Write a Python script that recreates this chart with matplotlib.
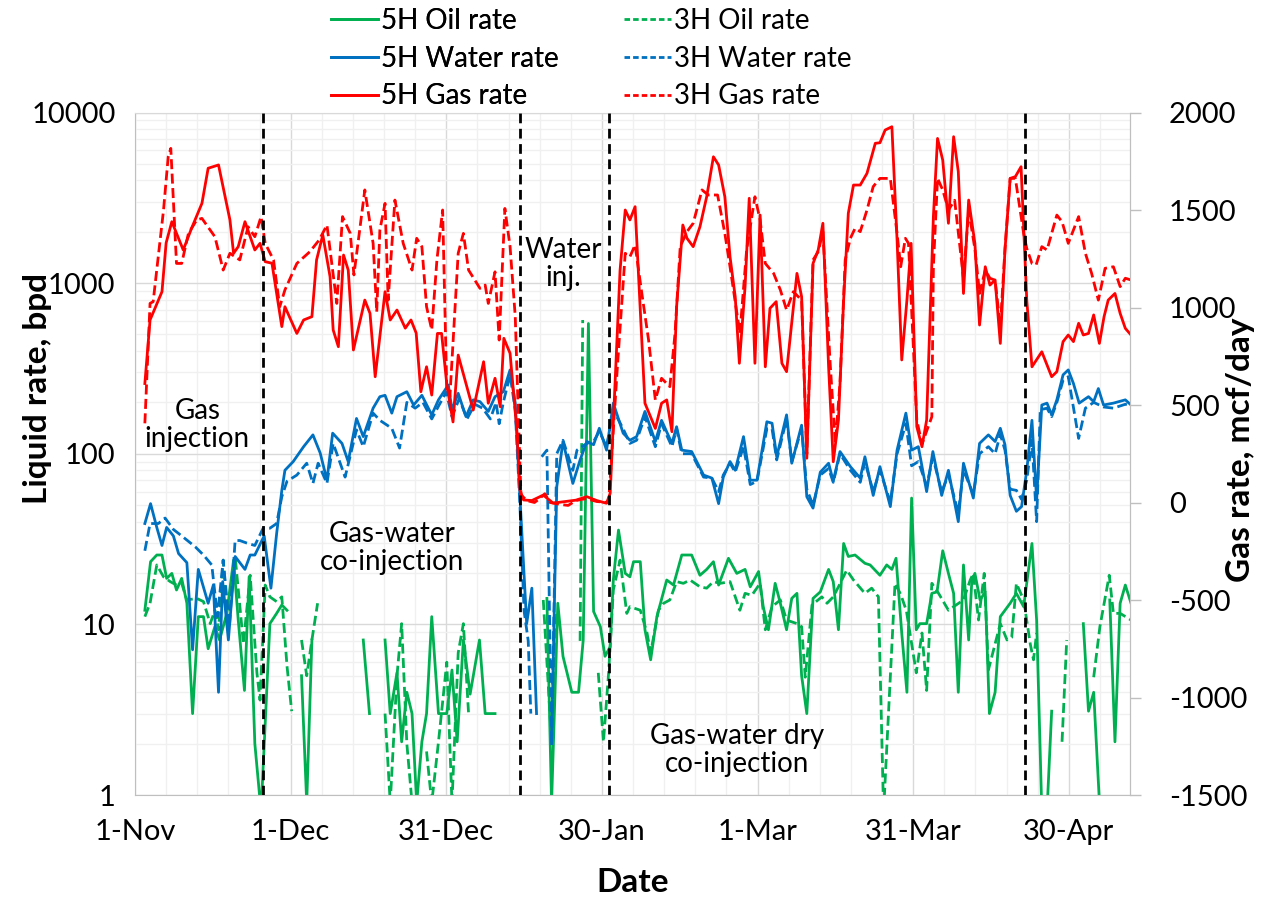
import numpy as np
import matplotlib
matplotlib.use("Agg")
import matplotlib.pyplot as plt
from matplotlib.lines import Line2D
from matplotlib.ticker import FixedLocator, LogLocator, MultipleLocator, NullFormatter

plt.rcParams["font.family"] = ["Lato", "DejaVu Sans"]
plt.rcParams["axes.unicode_minus"] = False

nan = np.nan

# x values are days counted from 1-Nov
TICK_DAYS = [0, 30, 60, 90, 120, 150, 180]
TICK_LABELS = ["1-Nov", "1-Dec", "31-Dec", "30-Jan", "1-Mar", "31-Mar", "30-Apr"]
PHASE_CHANGE_DAYS = [24.7, 74.2, 91.3, 171.5]

# 5H oil rate, bpd
oil_5h_day = [1.9, 3.0, 4.2, 5.2, 6.1, 7.1, 8.0, 9.0, 10.0, 11.1,
              12.2, 13.2, 14.1, 15.4, 16.3, 17.7, 19.0, 19.9, 21.1, 22.0,
              23.1, 24.3, 26.0, 27.3, 28.3, 29.3, 30.5, 32.1, 33.1, 34.1,
              35.0, 44.0, 45.2, 46.5, 48.2, 49.2, 50.5, 51.4, 52.4, 53.4,
              54.3, 55.3, 56.2, 57.2, 58.5, 60.1, 61.1, 62.1, 63.3, 64.6,
              66.4, 67.5, 69.4, 70.5, 79.4, 80.3, 81.5, 82.5, 84.2, 85.5,
              86.4, 87.4, 88.4, 89.7, 90.6, 91.6, 92.2, 93.2, 94.5, 95.4,
              96.1, 97.4, 98.3, 99.4, 100.6, 102.5, 103.8, 105.4, 107.3, 108.9,
              110.2, 111.5, 112.5, 114.4, 116.0, 117.6, 118.6, 120.2, 121.1, 122.1,
              123.4, 124.4, 125.6, 126.6, 127.6, 128.5, 129.5, 130.7, 132.1, 133.7,
              134.6, 135.6, 136.6, 137.5, 138.8, 140.7, 141.7, 143.6, 144.9, 145.9,
              146.7, 147.8, 148.8, 149.7, 150.6, 151.3, 152.6, 153.6, 154.6, 155.7,
              156.8, 157.8, 158.7, 159.7, 160.7, 161.3, 161.9, 162.9, 163.9, 164.7,
              165.8, 166.8, 167.7, 168.7, 169.9, 171.3, 172.9, 173.8, 174.8, 175.8,
              176.7, 178.0, 182.8, 183.8, 184.8, 186.0, 187.0, 187.9, 188.9, 189.9,
              190.9, 192.0]
oil_5h = [12.1, 23.3, 25.5, 25.5, 18.6, 19.9, 15.9, 18.6, 13.3, 3.0,
          11.1, 11.1, 7.2, 9.7, 8.1, 11.6, 23.8, 10.6, 4.1, 19,
          2.0, 0.8, 10.1, 11.6, 13, 12.1, nan, 5.0, 0.9, 8.1,
          nan, 8.1, 3.0, nan, 8.1, 3.0, 5.2, 2.05, 4.0, 3.0,
          0.9, 2.05, 3.0, 11.1, 3.0, 3.0, 5.4, 2.05, 8.1, 3.9,
          8.1, 3.0, 3.0, nan, 14.2, 0.9, 13.3, 6.5, 4.0, 4.0,
          8.1, 580, 11.9, 9.7, 6.5, 7.4, 18.2, 35.7, 19.9, 19.0,
          23.3, 23.3, 9.3, 6.2, 11.1, 18.2, 17, 25.5, 25.5, 19.4,
          21, 23.3, 17, 24.4, 19.9, 21, 16.6, 20.4, 12.7, 9.3,
          17.4, 13.3, 9.3, 14.2, 15.2, 5.0, 3.0, 14.2, 15.5, 21,
          17.8, 9.3, 29.8, 25, 25.5, 22.8, 22.3, 19.4, 22.3, 21,
          24.4, 8.9, 4.0, 55, 9.3, 10.1, 10.1, 15.2, 15.5, 27,
          19.9, 15.2, 4.0, 22.3, 8.1, 17.8, 19.9, 13.9, 15.5, 3.0,
          4.0, 11.1, 12.1, 13.3, 15.2, 12.7, 29.8, 10.6, 0.8, 0.8,
          3.1, nan, 10.1, 3.1, 4.0, 0.8, nan, 13.9, 2.05, 13.3,
          17, 13.3]

# 3H oil rate, bpd
oil_3h_day = [1.9, 2.9, 4.2, 5.5, 6.8, 8.0, 9.0, 10.0, 11.9, 13.2,
              14.5, 15.4, 16.1, 17.0, 18.0, 19.3, 20.9, 22.2, 23.5, 24.1,
              25.1, 26.0, 27.3, 28.3, 29.3, 30.2, 31.2, 32.1, 33.1, 34.1,
              35.2, 36.5, 48.2, 49.2, 50.5, 51.4, 52.4, 53.4, 54.8, 56.2,
              57.2, 58.5, 60.1, 61.1, 62.3, 63.3, 64.3, 65.5, 78.7, 80.3,
              81.3, 82.5, 85.8, 86.3, 86.9, 89.3, 90.3, 91.3, 92.2, 93.5,
              94.8, 95.4, 97.4, 98.7, 99.4, 100.9, 101.9, 103.1, 104.4, 105.7,
              107.0, 108.9, 110.2, 111.5, 112.8, 114.7, 116.6, 117.6, 118.9, 120.5,
              121.5, 122.8, 124.4, 125.6, 127.6, 128.5, 129.2, 130.5, 132.4, 133.4,
              134.6, 135.6, 137.2, 138.5, 140.7, 142.0, 143.3, 144.3, 146.5, 147.6,
              148.7, 150.6, 151.7, 152.6, 153.6, 154.9, 156.8, 159.7, 161.0, 161.6,
              162.6, 163.7, 164.5, 166.8, 168.1, 169.0, 169.9, 171.3, 172.6, 173.2,
              173.8, 175.0, 178.7, 179.6, 180.5, 184.8, 186.0, 187.8, 188.6, 189.9,
              192.0]
oil_3h = [11.1, 13.3, 22.3, 19, 17.8, 17, 17.4, 13.9, 14.2, 13.6,
          10.1, 12.1, 9.3, 23.8, 9.7, 25, 7.7, 19.4, 5.2, 3.6,
          17, 14.5, 13.6, 14.5, 5.7, 3.1, nan, 8.1, 5.0, 8.1,
          13.3, nan, 3.0, 0.9, 5.0, 10.1, 2.0, 0.9, nan, 1.8,
          0.9, 2.05, 6.0, 0.9, 6.8, 10.1, 3.0, nan, 13.9, 2.05,
          12, nan, 8, 608, nan, 5.2, 2.05, 5.2, 15.9, 23.8,
          11.6, 12.7, 12.1, 8.9, 6.8, 12.1, 13.3, 13.9, 17.8, 17.4,
          18.2, 16.6, 16.3, 17.8, 17.4, 17.8, 12.1, 15.2, 14.8, 17.4,
          9.3, 12.7, 13.9, 10.6, 10.1, 9.7, 4.9, 13, 14.5, 13.3,
          14.5, 16.6, 20.8, 18.2, 15.2, 16.3, 14.5, 0.8, 17.4, 15,
          12, 5.2, 8.9, 4.1, 17.4, 15.2, 12.1, 13.9, 18.2, 19.9,
          10.6, 19.9, 5.4, 10.1, 8.1, 8.4, 17.4, 13.9, 7.6, 6.2,
          8.9, nan, 2.05, 8.1, nan, 4.9, 9.7, 19.4, 11.6, 11.6,
          10.6]

# 5H water rate, bpd
water_5h_day = [1.9, 3.0, 4.2, 5.2, 6.1, 7.4, 8.4, 10.0, 11.1, 12.2,
                14.1, 15.1, 16.1, 16.9, 18.0, 19.3, 21.2, 22.2, 23.1, 24.9,
                26.2, 27.3, 28.3, 28.9, 30.5, 32.5, 34.3, 35.7, 37.0, 38.1,
                39.9, 41.1, 42.7, 44.0, 45.9, 47.2, 48.2, 49.5, 50.5, 52.4,
                53.7, 55.3, 57.2, 58.5, 60.4, 61.1, 62.3, 63.8, 65.2, 66.5,
                68.1, 69.4, 71.0, 72.3, 73.3, 74.2, 75.5, 76.5, 77.4, 78.5,
                80.3, 81.3, 82.5, 84.4, 85.8, 87.1, 88.4, 89.5, 90.9, 92.2,
                94.1, 95.4, 96.7, 98.3, 100.3, 101.5, 103.5, 104.4, 105.4, 107.3,
                109.6, 111.2, 112.5, 113.4, 114.7, 115.7, 117.3, 118.6, 119.9, 121.8,
                122.8, 123.7, 125.6, 126.6, 128.5, 129.5, 130.7, 132.1, 133.7, 134.6,
                135.9, 137.9, 139.8, 140.7, 142.3, 143.6, 145.6, 146.9, 148.6, 149.7,
                151.0, 152.6, 153.8, 155.5, 156.8, 158.7, 159.7, 161.6, 162.8, 164.5,
                165.8, 166.8, 167.7, 168.7, 169.9, 170.9, 171.9, 172.9, 173.8, 174.8,
                175.8, 176.7, 177.7, 178.9, 179.9, 180.9, 182.0, 183.8, 184.8, 185.7,
                186.7, 188.6, 190.9, 192.0]
water_5h = [39, 51, 37, 29, 37, 33, 26, 23, 7.1, 21,
            13.3, 17, 4.0, 17.8, 8.1, 25, 21, 25.5, 25.5, 33,
            16.3, 34, 61, 80, 90, 110, 129, 101, 70, 132,
            115, 90, 161, 126, 185, 216, 220, 173, 216, 231,
            193, 220, 169, 207, 253, 181, 226, 165, 207, 202,
            177, 216, 231, 310, 198, 56, 10.1, 16.3, 3.0, nan,
            2.0, 64, 118, 67, 92, 118, 113, 141, 105, 198,
            132, 120, 126, 177, 118, 157, 115, 144, 105, 103,
            75, 72, 51, 73, 90, 80, 126, 70, 70, 154,
            151, 96, 169, 88, 147, 56, 48, 78, 88, 69,
            103, 84, 72, 96, 57, 84, 49, 105, 173, 105,
            110, 60, 103, 57, 80, 40, 88, 55, 115, 129,
            118, 141, 113, 57, 46, 49, 80, 157, 54, 193,
            198, 169, 207, 290, 310, 258, 198, 216, 202, 241,
            193, 198, 207, 193]

# 3H water rate, bpd
water_3h_day = [1.9, 2.9, 4.5, 5.8, 7.4, 9.0, 11.6, 13.2, 14.8, 15.9,
                17.0, 18.2, 19.3, 20.2, 21.5, 23.1, 24.7, 26.0, 27.3, 28.3,
                29.3, 31.2, 33.1, 34.3, 35.3, 37.0, 38.2, 40.5, 42.7, 44.0,
                45.9, 47.2, 49.5, 51.0, 52.4, 54.0, 55.5, 57.2, 58.5, 60.0,
                61.1, 62.5, 64.0, 65.5, 67.0, 68.5, 69.6, 70.2, 71.0, 72.3,
                73.3, 74.2, 75.0, 75.8, 76.3, 77.2, 78.4, 79.4, 80.3, 81.3,
                82.5, 84.4, 85.2, 87.1, 88.4, 89.5, 90.9, 92.2, 94.1, 95.4,
                96.7, 98.3, 100.3, 101.5, 103.5, 104.4, 105.4, 107.3, 109.6, 111.2,
                112.5, 113.4, 114.7, 115.7, 117.3, 118.6, 119.9, 121.8, 122.8, 123.7,
                125.6, 126.6, 128.5, 129.5, 130.7, 132.1, 133.7, 134.6, 135.9, 137.9,
                139.8, 140.7, 142.3, 143.6, 145.6, 146.9, 148.6, 149.7, 151.0, 152.6,
                153.8, 155.5, 156.8, 158.7, 159.7, 161.6, 162.8, 164.5, 165.8, 166.8,
                167.7, 168.7, 169.9, 170.9, 171.9, 172.9, 173.8, 174.5, 175.8, 176.7,
                177.7, 178.9, 179.9, 181.9, 183.2, 184.8, 186.7, 188.6, 190.9, 192.0]
water_3h = [27, 39, 39, 42, 36, 33, 28.5, 25.5, 22.3, 11.1,
            23.8, 9.7, 31, 31, 30, 29, 36.6, 36.6, 39, 56,
            69, 75, 88, 67, 88, 67, 115, 73, 138, 110,
            173, 157, 141, 108, 200, 185, 200, 160, 190, 230,
            165, 210, 160, 195, 185, 160, 200, 150, 200, 290,
            180, 50, 12, 8, 3.0, nan, 96, 105, 2.0, 100,
            120, 80, 105, 115, 118, 135, 110, 180, 140, 115,
            120, 165, 110, 150, 110, 140, 100, 100, 73, 72,
            60, 75, 88, 78, 110, 66, 69, 140, 140, 92,
            160, 90, 140, 62, 50, 75, 82, 68, 100, 80,
            68, 90, 60, 80, 52, 100, 150, 85, 90, 65,
            95, 60, 75, 45, 80, 58, 100, 110, 100, 130,
            105, 62, 61, 54, 70, 120, 40, 181, 185, 165,
            200, 270, 283, 123, 185, 200, 188, 185, 195, 190]

# 5H gas rate, mcf/day
gas_5h_day = [1.9, 2.9, 5.2, 6.0, 7.1, 9.3, 10.9, 12.9, 14.1, 16.1,
              18.3, 19.0, 19.9, 21.2, 23.1, 24.1, 25.1, 26.4, 28.3, 28.9,
              31.2, 32.5, 34.1, 35.0, 36.2, 37.6, 38.2, 39.2, 40.2, 41.1,
              42.1, 44.3, 45.3, 46.3, 48.2, 49.2, 50.5, 52.1, 53.2, 54.2,
              55.1, 56.2, 57.2, 58.3, 59.1, 60.1, 61.3, 62.3, 65.2, 67.2,
              68.1, 69.4, 70.4, 71.1, 72.3, 73.6, 74.2, 74.9, 76.5, 78.7,
              80.6, 83.0, 85.0, 87.1, 89.0, 90.9, 91.6, 93.5, 94.5, 95.4,
              96.4, 98.3, 100.3, 101.5, 102.5, 103.5, 104.4, 105.6, 106.4, 107.6,
              108.9, 110.2, 111.5, 112.5, 113.7, 114.7, 115.7, 116.5, 117.6, 118.4,
              119.5, 120.5, 121.5, 122.4, 123.6, 124.7, 125.6, 127.6, 128.5, 129.5,
              130.7, 131.7, 132.6, 133.7, 134.6, 135.6, 136.6, 137.5, 138.5, 139.8,
              141.1, 142.7, 143.6, 144.6, 145.9, 146.9, 147.8, 148.8, 149.6, 150.7,
              151.7, 152.6, 153.9, 154.7, 155.7, 156.8, 157.8, 158.7, 159.7, 160.7,
              161.9, 162.8, 163.9, 164.8, 165.8, 166.8, 167.7, 168.7, 169.7, 170.8,
              171.9, 172.9, 174.8, 176.7, 177.7, 178.9, 179.9, 180.9, 181.9, 182.8,
              183.8, 184.8, 185.9, 186.8, 187.6, 188.9, 189.9, 190.9, 192.0]
gas_5h = [610, 936, 1081, 1331, 1440, 1295, 1406, 1534, 1714, 1731,
          1449, 1278, 1312, 1440, 1295, 1329, 1235, 1227, 902, 1004,
          867, 936, 953, 1244, 1372, 1158, 885, 799, 1269, 1192,
          782, 1038, 970, 645, 1081, 936, 987, 894, 936, 869,
          568, 696, 551, 867, 867, 607, 413, 756, 474, 722,
          509, 637, 491, 842, 765, 372, 64, 13, 10, 38,
          -3, 5, 12, 30, 10, -4, 48, 1190, 1500, 1449,
          1517, 509, 380, 509, 526, 363, 1004, 1423, 1355, 1312,
          1414, 1568, 1773, 1731, 1568, 1260, 1055, 714, 1107, 1560,
          714, 1474, 696, 996, 1030, 714, 671, 1175, 1055, 227,
          1226, 1295, 1432, 696, 209, 423, 1038, 1483, 1628, 1628,
          1688, 1842, 1845, 1910, 1927, 1346, 731, 1038, 1329, 389,
          286, 423, 1466, 1867, 1756, 1432, 1876, 1697, 1072, 1551,
          1329, 910, 1209, 1115, 1141, 816, 1295, 1662, 1671, 1722,
          1038, 696, 773, 645, 671, 825, 859, 825, 919, 859,
          867, 962, 816, 953, 1038, 1072, 970, 893, 859]

# 3H gas rate, mcf/day
gas_3h_day = [1.9, 2.9, 3.5, 5.5, 6.4, 6.9, 8.0, 9.0, 10.3, 11.9,
              12.9, 15.4, 17.0, 18.3, 20.2, 21.8, 23.1, 24.3, 25.1, 26.7,
              27.9, 28.9, 31.2, 33.7, 35.5, 37.0, 38.9, 40.0, 41.5, 42.2,
              44.3, 45.9, 46.6, 47.2, 48.2, 48.8, 50.1, 51.7, 53.4, 54.3,
              55.3, 56.2, 57.2, 58.2, 59.3, 60.1, 60.7, 62.3, 63.3, 64.3,
              66.5, 67.5, 68.1, 69.4, 70.2, 71.3, 72.3, 73.3, 73.9, 74.4,
              75.5, 77.0, 78.0, 79.0, 80.0, 82.0, 83.5, 85.0, 87.0, 89.0,
              91.3, 93.0, 94.5, 95.4, 96.4, 97.7, 99.0, 100.3, 101.5, 103.1,
              104.1, 105.1, 106.4, 107.6, 109.3, 110.5, 112.3, 113.7, 114.7, 116.6,
              117.9, 119.5, 120.5, 121.5, 123.1, 124.4, 125.6, 126.9, 128.5, 129.5,
              130.7, 131.7, 132.6, 134.0, 135.0, 135.9, 136.9, 137.9, 138.8, 139.8,
              141.1, 142.3, 143.6, 145.6, 146.9, 147.6, 148.5, 149.1, 150.7, 151.7,
              153.6, 153.9, 154.7, 155.7, 156.8, 158.0, 159.7, 160.7, 161.9, 162.8,
              163.9, 164.8, 165.8, 166.8, 167.7, 168.7, 169.7, 171.3, 171.9, 172.9,
              173.7, 174.8, 175.8, 177.7, 178.7, 179.9, 181.9, 183.2, 184.4, 185.7,
              187.0, 188.6, 189.9, 190.9, 192.0]
gas_3h = [406, 1021, 1030, 1500, 1773, 1816, 1226, 1226, 1380, 1449,
          1457, 1363, 1192, 1278, 1244, 1414, 1363, 1466, 1329, 1244,
          1004, 1090, 1226, 1286, 1346, 1423, 1021, 1466, 1380, 1167,
          1603, 1329, 978, 1397, 1534, 1038, 1551, 1329, 1192, 1355,
          1312, 1004, 885, 1244, 1500, 577, 543, 1278, 1380, 1192,
          1098, 1115, 1021, 1183, 833, 1508, 1312, 953, 440, 40,
          10, 0, 20, 45, 0, -10, -15, 10, 20, 5,
          0, 700, 1278, 1260, 1321, 1072, 833, 526, 637, 594,
          867, 1312, 1389, 1432, 1603, 1577, 1577, 1380, 1209, 867,
          1295, 1568, 1449, 1226, 1175, 1090, 987, 1081, 1038, 250,
          1244, 1286, 1389, 714, 305, 613, 1244, 1355, 1406, 1389,
          1500, 1620, 1662, 1662, 1380, 1209, 1355, 1329, 423, 300,
          440, 1209, 1662, 1603, 1500, 1550, 1150, 1500, 1300, 1072,
          1192, 1150, 1140, 900, 1300, 1662, 1662, 1380, 1303, 1226,
          1218, 1312, 1295, 1474, 1440, 1329, 1466, 1278, 1175, 1038,
          1201, 1209, 1107, 1150, 1141]

GREEN = "#00B050"
BLUE = "#0070C0"
RED = "#FF0000"
DASH = (0, (3.6, 1.6))
LW = 2.0
W, H = 1265, 898


def check(name, days, values):
    if len(days) != len(values):
        raise ValueError(f"{name}: {len(days)} days but {len(values)} values")


check("oil_5h", oil_5h_day, oil_5h)
check("oil_3h", oil_3h_day, oil_3h)
check("water_5h", water_5h_day, water_5h)
check("water_3h", water_3h_day, water_3h)
check("gas_5h", gas_5h_day, gas_5h)
check("gas_3h", gas_3h_day, gas_3h)

fig = plt.figure(figsize=(W / 100, H / 100), dpi=100)
ax = fig.add_axes([135 / W, 1 - 795 / H, 995 / W, 682.5 / H])
ax2 = ax.twinx()

# liquid rates on the log axis
kw = dict(lw=LW, solid_joinstyle="round", dash_joinstyle="round")
ax.plot(oil_3h_day, oil_3h, color=GREEN, ls=DASH, **kw)
ax.plot(oil_5h_day, oil_5h, color=GREEN, **kw)
ax.plot(water_3h_day, water_3h, color=BLUE, ls=DASH, **kw)
ax.plot(water_5h_day, water_5h, color=BLUE, **kw)

ax.set_yscale("log")
ax.set_ylim(1, 10000)
ax.set_xlim(0, 191.8)
ax.yaxis.set_major_locator(FixedLocator([1, 10, 100, 1000, 10000]))
ax.set_yticklabels(["1", "10", "100", "1000", "10000"])
ax.yaxis.set_minor_locator(LogLocator(base=10, subs=np.arange(2, 10)))
ax.yaxis.set_minor_formatter(NullFormatter())
ax.xaxis.set_major_locator(FixedLocator(TICK_DAYS))
ax.set_xticklabels(TICK_LABELS)
ax.xaxis.set_minor_locator(MultipleLocator(6))
ax.grid(which="major", color="#d9d9d9", lw=1.0)
ax.grid(which="minor", color="#f0f0f0", lw=1.0)
ax.set_axisbelow(True)
ax.tick_params(axis="both", which="both", length=0, labelsize=21, colors="black")
ax.tick_params(axis="y", pad=14)
ax.tick_params(axis="x", pad=17)
for side in ["left", "bottom", "right", "top"]:
    ax.spines[side].set_color("#bfbfbf")
ax.spines["top"].set_color("#d9d9d9")

ax.set_ylabel("Liquid rate, bpd", fontsize=24, fontweight="bold")
ax.yaxis.set_label_coords((52 - 135) / 995, (795 - 388) / 682.5)
ax.set_xlabel("Date", fontsize=24, fontweight="bold")
ax.xaxis.set_label_coords(0.5, (795 - 868) / 682.5)

# gas rates on the secondary axis
ax2.plot(gas_5h_day, gas_5h, color=RED, **kw)
ax2.plot(gas_3h_day, gas_3h, color=RED, ls=DASH, **kw)
ax2.set_ylim(-1500, 2000)
ax2.set_yticks(np.arange(-1500, 2001, 500))
ax2.tick_params(axis="y", length=8, width=1, color="#bfbfbf", pad=20, labelsize=21)
ax2.spines["right"].set_color("#bfbfbf")
for side in ["left", "bottom", "top"]:
    ax2.spines[side].set_visible(False)
ax2.set_ylabel("Gas rate, mcf/day", fontsize=24, fontweight="bold")
ax2.yaxis.set_label_coords((1226 - 135) / 995, (795 - 450) / 682.5)

for d in PHASE_CHANGE_DAYS:
    ax2.axvline(d, color="black", lw=2.0, ls=(0, (3.5, 2.0)))

# phase labels (x in days, y on the liquid-rate axis)
txt = dict(fontsize=20, ha="center", va="center", linespacing=1.12,
           transform=ax.transData, zorder=10)
ax2.text(12.0, 147, "Gas\ninjection", **txt)
ax2.text(49.5, 28, "Gas-water\nco-injection", **txt)
ax2.text(82.5, 1297, "Water\ninj.", **txt)
ax2.text(116.1, 1.84, "Gas-water dry\nco-injection", **txt)

DASH_KEY = (0, (2.0, 1.1))
col_5h = [
    Line2D([], [], color=GREEN, lw=LW, label="5H Oil rate"),
    Line2D([], [], color=BLUE, lw=LW, label="5H Water rate"),
    Line2D([], [], color=RED, lw=LW, label="5H Gas rate"),
]
col_3h = [
    Line2D([], [], color=GREEN, lw=LW, ls=DASH_KEY, label="3H Oil rate"),
    Line2D([], [], color=BLUE, lw=LW, ls=DASH_KEY, label="3H Water rate"),
    Line2D([], [], color=RED, lw=LW, ls=DASH_KEY, label="3H Gas rate"),
]
leg_kw = dict(loc="upper left", frameon=False, fontsize=20, handlelength=1.7,
              handletextpad=0.1, labelspacing=0.42, borderpad=0, borderaxespad=0)
leg1 = fig.legend(handles=col_5h, bbox_to_anchor=(331 / W, 1 - 8 / H), **leg_kw)
fig.add_artist(leg1)
fig.legend(handles=col_3h, bbox_to_anchor=(624 / W, 1 - 8 / H), **leg_kw)

fig.savefig("out.png", dpi=100)
